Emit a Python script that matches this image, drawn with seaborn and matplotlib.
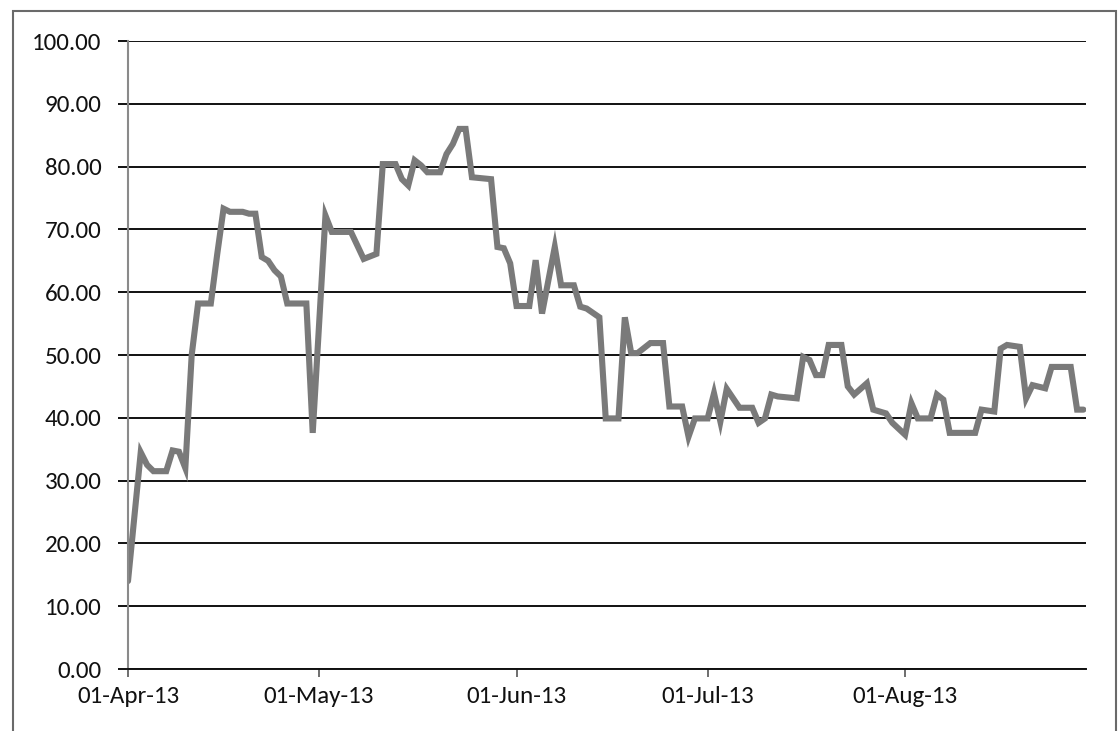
import matplotlib
matplotlib.use("Agg")
import matplotlib.pyplot as plt
from matplotlib.patches import Rectangle
import numpy as np
import pandas as pd
import seaborn as sns

# ---- data ----
start_date = "2013-04-01"
day_offsets = [0, 2, 3, 4, 6, 7, 8, 9, 10, 11, 13, 14, 15, 16, 18, 19, 20, 21, 22, 23, 24, 25, 27, 28,
               29, 31, 32, 35, 37, 39, 40, 42, 43, 44, 45, 46, 47, 49, 50, 51, 52, 53, 54, 57, 58, 59,
               60, 61, 63, 64, 65, 67, 68, 70, 71, 72, 74, 75, 77, 78, 79, 80, 82, 84, 85, 87, 88, 89,
               91, 92, 93, 94, 96, 98, 99, 100, 101, 102, 105, 106, 107, 108, 109, 110, 112, 113, 114,
               116, 117, 119, 120, 122, 123, 124, 126, 127, 128, 129, 133, 134, 136, 137, 138, 140, 141,
               142, 144, 145, 148, 149, 150]
values = [14.0, 34.5, 32.5, 31.5, 31.5, 34.8, 34.6, 32.0, 50.0, 58.2, 58.2, 66.0, 73.3, 72.8, 72.8, 72.5,
          72.5, 65.6, 65.0, 63.5, 62.5, 58.2, 58.2, 58.2, 37.6, 72.2, 69.6, 69.6, 65.3, 66.1, 80.4, 80.4,
          78.0, 77.0, 81.0, 80.2, 79.1, 79.1, 82.0, 83.6, 86.0, 86.0, 78.3, 78.0, 67.2, 67.0, 64.6, 57.8,
          57.8, 65.1, 56.6, 67.2, 61.1, 61.1, 57.7, 57.4, 56.0, 39.9, 39.9, 56.0, 50.3, 50.3, 51.9, 51.9,
          41.8, 41.8, 37.0, 39.9, 39.9, 43.9, 39.4, 44.6, 41.6, 41.6, 39.2, 39.9, 43.7, 43.4, 43.1, 49.7,
          49.2, 46.8, 46.8, 51.6, 51.6, 45.0, 43.7, 45.5, 41.3, 40.7, 39.2, 37.3, 42.3, 39.9, 39.9, 43.7,
          42.9, 37.6, 37.6, 41.3, 41.0, 51.0, 51.6, 51.3, 43.1, 45.2, 44.7, 48.1, 48.1, 41.3, 41.3]
y_ticks = [0, 10, 20, 30, 40, 50, 60, 70, 80, 90, 100]
x_tick_dates = ["2013-04-01", "2013-05-01", "2013-06-01", "2013-07-01", "2013-08-01"]

dates = pd.Timestamp(start_date) + pd.to_timedelta(day_offsets, unit="D")
df = pd.DataFrame({"date": dates, "value": values})

sns.set_theme(style="white")
plt.rcParams['font.family'] = ['Carlito', 'Liberation Sans Narrow', 'DejaVu Sans']

fig = plt.figure(figsize=(11.19, 7.31), dpi=100)
ax = fig.add_axes([128 / 1119, 62 / 731, 958 / 1119, 628 / 731])

sns.lineplot(data=df, x="date", y="value", ax=ax, color="#7a7a7a", linewidth=4.4,
             solid_joinstyle="miter")

ax.set_ylim(0, 100)
ax.set_xlim(pd.Timestamp(start_date), pd.Timestamp(start_date) + pd.Timedelta(days=150.4))
ax.set_yticks(y_ticks)
ax.set_yticklabels([f"{v:.2f}" for v in y_ticks])
xt = pd.to_datetime(x_tick_dates)
ax.set_xticks(xt)
ax.set_xticklabels([d.strftime("%d-%b-%y") for d in xt])
ax.set_xlabel("")
ax.set_ylabel("")

ax.grid(axis="y", color="#111111", linewidth=1.4)
ax.grid(axis="x", visible=False)
ax.set_axisbelow(True)

for s in ["top", "right"]:
    ax.spines[s].set_visible(False)
ax.spines["left"].set_color("#8a8a8a")
ax.spines["left"].set_linewidth(1.5)
ax.spines["bottom"].set_color("#111111")
ax.spines["bottom"].set_linewidth(1.4)

ax.tick_params(axis="y", which="major", length=7, width=1.4, color="#111111",
               labelsize=18, pad=12, left=True, labelcolor="#111111")
ax.tick_params(axis="x", which="major", length=6, width=1.2, color="#555555",
               labelsize=18, pad=6, bottom=True, labelcolor="#111111")

# outer chart border
fig.patches.append(Rectangle((13 / 1119, -0.05), (1116 - 13) / 1119, 1.05 - 11 / 731,
                             transform=fig.transFigure, fill=False,
                             edgecolor="#6a6a6a", linewidth=1.5))

fig.savefig("out.png", dpi=100)
